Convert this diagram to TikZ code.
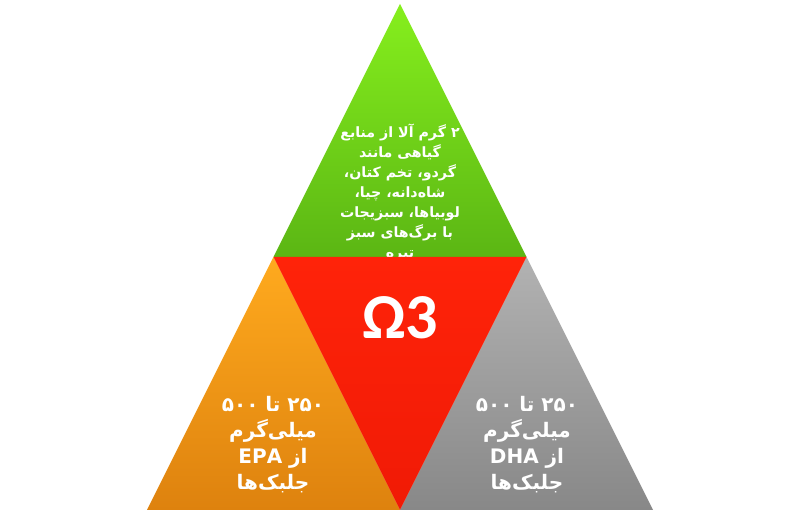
\documentclass[tikz,border=0pt]{standalone}
\usepackage{fontspec}
\usepackage{tikz}
\TeXXeTstate=1
\newfontfamily\arabicfont[Script=Arabic]{DejaVu Sans}
\newfontfamily\omegafont{Carlito}
\newcommand{\faline}[1]{\beginR #1\endR}
\definecolor{greentop}{HTML}{86EF1D}
\definecolor{greenbot}{HTML}{5BB614}
\definecolor{orangetop}{HTML}{FFAA1E}
\definecolor{orangebot}{HTML}{DE820E}
\definecolor{graytop}{HTML}{B2B2B2}
\definecolor{graybot}{HTML}{888888}
\definecolor{redmid}{HTML}{FF2309}
\definecolor{redbot}{HTML}{F01A05}
\tikzset{
 smalltext/.style={text=white, align=center, font=\arabicfont\bfseries\fontsize{7.1}{10}\selectfont},
 bigtext/.style={text=white, align=center, font=\arabicfont\bfseries\fontsize{10}{13}\selectfont}
}
\begin{document}
\begin{tikzpicture}[x=0.5pt,y=-0.5pt]
 \useasboundingbox (0,0) rectangle (800,522);
 \coordinate (apex) at (400,4);
 \coordinate (left) at (147,510);
 \coordinate (right) at (653,510);
 \coordinate (midl) at (273.5,257);
 \coordinate (midr) at (526.5,257);
 \coordinate (midb) at (400,510);
 \shade[top color=greentop, bottom color=greenbot] (apex) -- (midl) -- (midr) -- cycle;
 \shade[top color=orangetop, bottom color=orangebot] (midl) -- (left) -- (midb) -- cycle;
 \shade[top color=graytop, bottom color=graybot] (midr) -- (midb) -- (right) -- cycle;
 \node[smalltext] (plants) at (400,192) {\faline{۲ گرم آلا از منابع}\\
  \faline{گیاهی مانند}\\
  \faline{گردو، تخم کتان،}\\
  \faline{شاه^^^^200cدانه، چیا،}\\
  \faline{لوبیاها، سبزیجات}\\
  \faline{با برگ^^^^200cهای سبز}\\
  \faline{تیره}};
 % red middle piece covers the last line
 \shade[top color=redmid, bottom color=redbot] (midl) -- (midr) -- (midb) -- cycle;
 \node[text=white, font=\omegafont\bfseries\fontsize{32}{32}\selectfont] (omega) at (400,318) {Ω3};
 \node[bigtext] (epa) at (273,445) {\faline{۲۵۰ تا ۵۰۰}\\
  \faline{میلی^^^^200cگرم}\\
  \faline{از EPA}\\
  \faline{جلبک^^^^200cها}};
 \node[bigtext] (dha) at (527,445) {\faline{۲۵۰ تا ۵۰۰}\\
  \faline{میلی^^^^200cگرم}\\
  \faline{از DHA}\\
  \faline{جلبک^^^^200cها}};
\end{tikzpicture}
\end{document}
